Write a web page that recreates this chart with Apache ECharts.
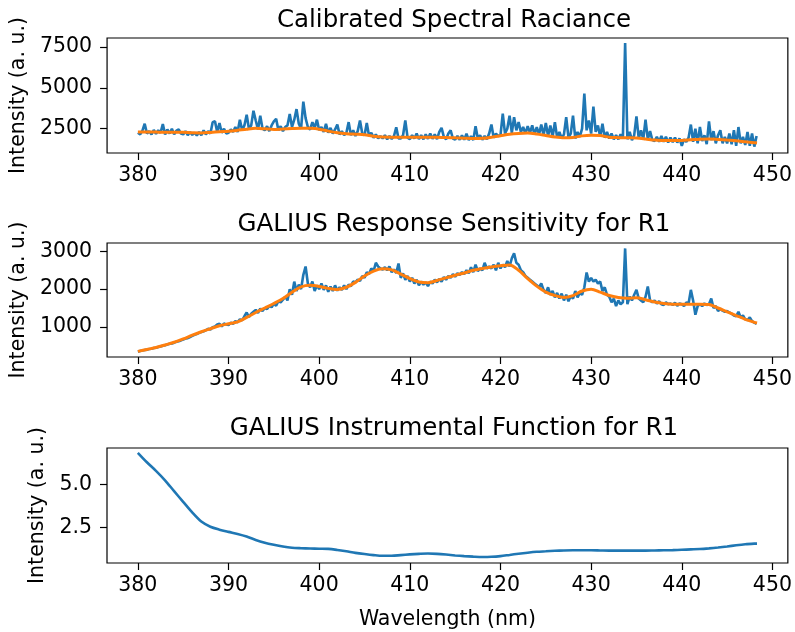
<!DOCTYPE html>
<html><head><meta charset="utf-8">
<script src="https://cdn.jsdelivr.net/npm/echarts@6/dist/echarts.min.js"></script>
<style>html,body{margin:0;padding:0;background:#fff}#c{width:795px;height:632px}</style>
</head><body><div id="c"></div><script>
// Raw spectra sampled every 0.25 nm starting at 380 nm
const rawStart = 380, rawStep = 0.25;
const radianceRaw = [
2250,2150,2380,2800, 2200,2350,2150,2420, 2180,2400,2250,2780, 2150,2450,2200,2500,
2150,2380,2450,2200, 2150,2350,2100,2300, 2120,2250,2080,2300, 2100,2400,2150,2350,
2200,2900,2950,2300, 2850,2250,2500,2200, 2250,2450,2300,2600, 2300,3050,2400,2700,
3350,2500,2700,3600, 3000,2450,3300,2500, 2400,2650,2350,2700, 2950,3100,2400,2650,
2350,2600,2700,3400, 2600,3050,3700,2800, 2500,4150,3150,2600, 2450,2900,2550,3050,
2400,2600,2300,2800, 2250,2550,2200,2450, 2750,2150,2350,2100, 2250,2900,2100,2400,
2050,2350,3000,2200, 2100,2850,2050,2250, 1950,2150,1900,2050, 1900,2100,1850,2050,
1880,2050,2580,1900, 1900,2100,3000,1950, 1860,2100,1900,2200, 1860,2100,1850,2150,
1880,2200,1880,2150, 1860,2300,2550,2000, 1850,2200,2400,1900, 1830,2050,1820,2100,
1820,2200,1800,2050, 1800,2650,1900,2100, 1820,2050,1850,2200, 2750,1950,2200,2050,
2100,3420,2200,2500, 3300,2250,3200,2400, 2900,2300,2600,2200, 2650,2250,2700,2150,
2600,2150,2750,2100, 2850,2050,2700,2000, 2900,1950,2300,1900, 2150,3200,1950,2200,
3300,1900,2300,2000, 2500,4650,2400,3000, 2200,3850,2300,2700, 2000,2800,1950,2300,
1900,2200,1850,2100, 1850,2150,1900,7750, 1850,2300,1800,2100, 3250,1900,2400,1850,
3050,1850,2350,1800, 1750,2000,1700,2050, 1700,2000,1650,1950, 1680,1950,1650,1900,
1450,1850,1700,1950, 2750,1700,2500,1600, 2600,1750,2100,1550, 2950,1800,2350,1600,
2100,2400,1600,2000, 1600,2200,1550,2400, 1450,2600,1600,2000, 1500,2300,1450,2200,
1400,2050
];
const sensitivityRaw = [
340,360,370,385, 395,410,420,440, 445,465,480,500, 510,530,550,560,
580,605,620,640, 665,690,700,730, 760,790,810,840, 860,880,910,950,
930,990,1010,1060, 1080,1010,1090,1060, 1050,1110,1080,1150, 1120,1200,1170,1280,
1380,1260,1350,1400, 1450,1370,1480,1420, 1500,1470,1560,1520, 1620,1560,1680,1650,
1720,1800,1700,2000, 1850,2200,1950,2120, 2000,2380,2600,2150, 2050,2200,1950,2100,
2000,2150,1980,2100, 1930,2070,1950,2100, 1960,2050,1980,2100, 2000,2120,2080,2200,
2180,2250,2220,2350, 2300,2450,2400,2550, 2480,2700,2600,2550, 2520,2580,2500,2600,
2450,2520,2430,2680, 2300,2420,2250,2350, 2200,2300,2150,2250, 2100,2200,2120,2180,
2080,2200,2150,2250, 2180,2270,2200,2320, 2250,2350,2300,2400, 2330,2420,2380,2450,
2400,2500,2420,2580, 2450,2650,2480,2550, 2500,2700,2550,2600, 2550,2650,2500,2700,
2550,2650,2580,2750, 2600,2820,2950,2700, 2650,2500,2450,2350, 2300,2250,2200,2150,
2100,2050,2150,1980, 1900,2050,1850,1950, 1780,1900,1750,1880, 1700,1850,1680,1820,
1750,1950,1780,1900, 1850,2050,2440,2200, 2300,2200,2250,2150, 2200,1950,2050,1850,
1800,1650,1750,1550, 1700,1600,1650,3080, 1600,1800,1700,1850, 1980,1750,1700,1650,
1800,2070,1700,1650, 1700,1620,1680,1600, 1580,1650,1600,1620, 1580,1640,1560,1620,
1600,1550,1650,1620, 1980,1700,1320,1550, 1600,1550,1620,1580, 1600,1750,1500,1550,
1420,1480,1430,1400, 1420,1380,1350,1300, 1280,1400,1250,1300, 1200,1180,1250,1150,
1110,1080
];
// Smoothed curves sampled every 1 nm (380..448) plus the last point
const smoothWavelengths = [380,381,382,383,384,385,386,387,388,389,390,391,392,393,394,395,396,397,398,399,400,401,402,403,404,405,406,407,408,409,410,411,412,413,414,415,416,417,418,419,420,421,422,423,424,425,426,427,428,429,430,431,432,433,434,435,436,437,438,439,440,441,442,443,444,445,446,447,448,448.3];
const radianceSmooth = [2300,2300,2290,2280,2280,2275,2250,2240,2270,2310,2340,2400,2470,2520,2490,2450,2480,2510,2530,2520,2470,2350,2250,2190,2160,2130,2040,1990,1980,1980,1980,1980,1980,1970,1960,1940,1920,1900,1910,1980,2070,2160,2210,2230,2170,2080,1990,1940,1960,2060,2100,2080,1980,1950,1940,1930,1870,1800,1780,1770,1780,1820,1860,1870,1840,1800,1760,1700,1640,1620];
const sensitivitySmooth = [350,400,450,520,590,680,780,870,950,1030,1080,1130,1250,1380,1500,1620,1750,1920,2060,2100,2070,2020,1990,2050,2180,2350,2480,2540,2510,2400,2280,2190,2170,2230,2300,2370,2430,2500,2550,2590,2620,2640,2500,2280,2080,1920,1830,1780,1830,1950,2000,1920,1830,1780,1760,1770,1720,1660,1620,1600,1600,1600,1600,1590,1500,1400,1300,1200,1120,1100];
const instrumentFunction = [6.85,6.3,5.8,5.25,4.62,4.0,3.38,2.85,2.55,2.38,2.25,2.13,1.98,1.78,1.62,1.5,1.4,1.33,1.3,1.28,1.27,1.26,1.2,1.12,1.03,0.96,0.9,0.86,0.86,0.9,0.94,0.97,0.99,0.97,0.93,0.88,0.84,0.81,0.79,0.8,0.84,0.91,0.98,1.04,1.09,1.12,1.15,1.17,1.18,1.18,1.18,1.17,1.16,1.16,1.16,1.16,1.16,1.17,1.18,1.19,1.21,1.23,1.25,1.29,1.34,1.4,1.47,1.53,1.57,1.57];

const xTicks = [380,390,400,410,420,430,440,450];
const yTicks1 = [2500,5000,7500];
const yTicks2 = [1000,2000,3000];
const yTicks3 = [2.5,5.0];
const titles = ['Calibrated Spectral Raciance','GALIUS Response Sensitivity for R1','GALIUS Instrumental Function for R1'];
const yName = 'Intensity (a. u.)';
const xName = 'Wavelength (nm)';

const FONT = 'DejaVu Sans';
const C0 = '#1f77b4', C1 = '#ff7f0e';
const pair = (xs, ys) => ys.map((v, i) => [xs[i], v]);
const rawWl = radianceRaw.map((_, i) => rawStart + rawStep * i);

const grids = [
  {left:107, top:38, width:684, height:115},
  {left:107, top:243, width:684, height:114},
  {left:107, top:448, width:684, height:115}
].map(g => Object.assign(g, {show:true, borderColor:'#000', borderWidth:1.2, backgroundColor:'transparent'}));

const labelStyle = {color:'#000', fontFamily:FONT, fontSize:20.5};
function xAxis(i, withName){
  return {type:'value', gridIndex:i, min:376.6, max:451.7,
    axisLine:{show:false}, splitLine:{show:false},
    axisTick:{show:true, length:7, lineStyle:{color:'#000', width:1.2}, customValues:xTicks},
    axisLabel:Object.assign({margin:12, customValues:xTicks}, labelStyle),
    name: withName ? xName : '', nameLocation:'middle', nameGap:46,
    nameTextStyle:Object.assign({}, labelStyle)};
}
function yAxis(i, min, max, ticks, gap, fmt){
  return {type:'value', gridIndex:i, min:min, max:max,
    axisLine:{show:false}, splitLine:{show:false},
    axisTick:{show:true, length:7, lineStyle:{color:'#000', width:1.2}, customValues:ticks},
    axisLabel:Object.assign({margin:15, customValues:ticks, formatter:fmt}, labelStyle),
    name:yName, nameLocation:'middle', nameGap:gap, nameRotate:90,
    nameTextStyle:Object.assign({}, labelStyle)};
}
const lineSeries = (xi, data, color, w, smooth) => ({type:'line', xAxisIndex:xi, yAxisIndex:xi, data:data,
  showSymbol:false, symbol:'none', smooth:smooth || false, lineStyle:{color:color, width:w}, itemStyle:{color:color}, animation:false, silent:true});

const chart = echarts.init(document.getElementById('c'), null, {renderer:'canvas'});
chart.setOption({
  animation:false,
  backgroundColor:'#fff',
  title: titles.map((t, i) => ({text:t, left:449, textAlign:'center', top:[3,207,411][i],
    textStyle:{color:'#000', fontFamily:FONT, fontSize:24.5, fontWeight:'normal'}})),
  grid: grids,
  xAxis:[xAxis(0,false), xAxis(1,false), xAxis(2,true)],
  yAxis:[
    yAxis(0, 1011, 8051, yTicks1, 78, v => String(v)),
    yAxis(1, 200, 3224, yTicks2, 78, v => String(v)),
    yAxis(2, 0.44, 7.13, yTicks3, 58, v => v.toFixed(1))
  ],
  series:[
    lineSeries(0, pair(rawWl, radianceRaw), C0, 2.6),
    lineSeries(0, pair(smoothWavelengths, radianceSmooth), C1, 3, 0.3),
    lineSeries(1, pair(rawWl, sensitivityRaw), C0, 2.6),
    lineSeries(1, pair(smoothWavelengths, sensitivitySmooth), C1, 3, 0.3),
    lineSeries(2, pair(smoothWavelengths, instrumentFunction), C0, 2.6, 0.3)
  ]
});
</script></body></html>
